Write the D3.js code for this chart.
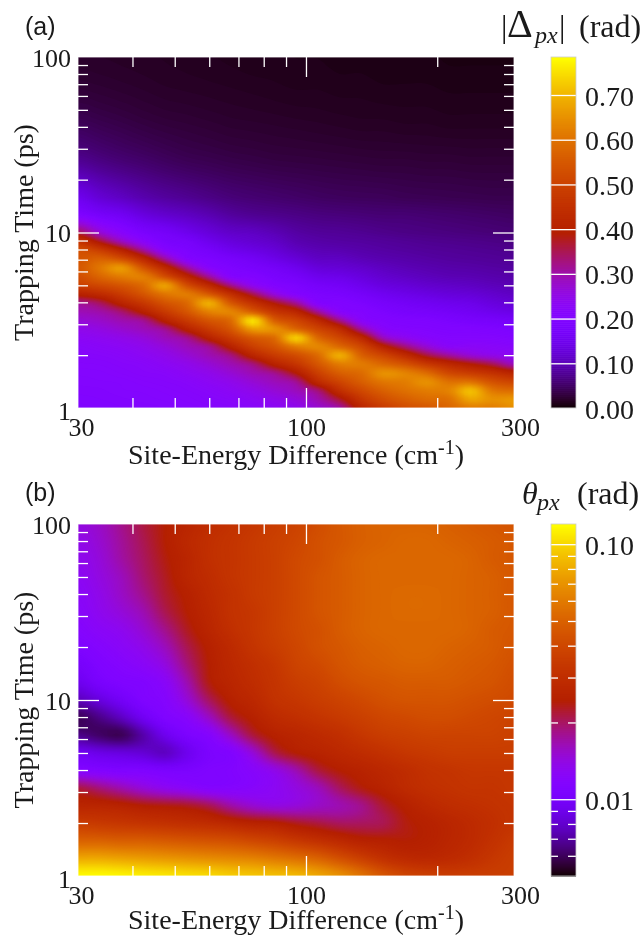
<!DOCTYPE html>
<html>
<head>
<meta charset="utf-8">
<script src="https://cdn.jsdelivr.net/npm/d3@7"></script>
<style>
body { margin: 0; background: #fff; }
svg { filter: blur(0.4px); }
text { font-family: "Liberation Serif", serif; fill: #1a1a1a; }
</style>
</head>
<body>
<script>
// site-energy difference (cm-1), columns of both maps
const energies = [30, 33.7, 37.8, 42.4, 47.5, 53.3, 59.9, 67.2, 75.4, 84.6, 94.9, 106.5, 119.5, 134, 150.4, 168.8, 189.4, 212.5, 238.5, 267.4, 300];

// trapping time (ps), rows of the maps
const timesA = [1, 1.12, 1.26, 1.41, 1.58, 1.78, 2, 2.24, 2.51, 2.82, 3.16, 3.55, 3.98, 4.47, 5.01, 5.62, 6.31, 7.08, 7.94, 8.91, 10, 12.6, 15.8, 25.1, 39.8, 63.1, 100];
const timesB = [1, 1.26, 1.58, 2, 2.51, 3.16, 3.98, 5.01, 6.31, 7.94, 10, 12.6, 15.8, 20, 25.1, 31.6, 39.8, 50.1, 63.1, 79.4, 100];

// |Delta_px| in 0.01 rad, one list per energy, running up through timesA
const deltaPx = [
  [20,20.3,20.5,20.8,21,21.4,21.8,22.1,23.5,24.8,27,29.5,32,41,49.5,53,55,54,53,46,35,20,15,8,4.8,3,2.2],
  [20.2,20.4,20.6,20.9,21.1,21.5,22,22.8,24,25.8,28,30.5,35,44,52,58,61,57,49,37,27,17.5,12.5,7,4.3,2.8,2.1],
  [20.4,20.6,20.9,21,21.5,21.9,22.5,23.5,25,27.5,30,34,42,49,55,62,66,53,41,28.5,22,16,11,6.2,3.9,2.6,2],
  [20.5,20.8,21,21.4,21.9,22.3,23.5,24.6,26.5,29.3,32,41,48,55,59,62,54,43,31,22.5,18.5,13.5,9.5,5.6,3.5,2.4,1.9],
  [20.7,21,21.3,21.7,22.2,23.5,24.8,26.6,29.2,32,41,48.5,54.5,61,67,53,43,31,22,18.5,17,12,8.5,5,3.2,2.2,1.8],
  [21,21.3,21.7,22.2,23.5,24.8,27,29.2,32,41,48.5,55,58.5,61.5,53,42,31,21.5,19,17.5,15,11,7.8,4.5,3,2.1,1.7],
  [21.3,21.8,22.3,23.5,24.8,27,29.6,32,41,48.5,55,63,69,55,43,31,22,19.2,17.3,15,13,9.8,7,4.2,2.8,2,1.6],
  [21.7,22.3,23.5,24.8,27,29.6,33,41,48.5,55,59,63,55,45,32,21.5,19.3,17.7,15.2,13.2,11.5,8.5,6.3,3.9,2.6,1.9,1.5],
  [22.3,23.5,25,27,29.6,33,42,49.5,55.5,67,75,56,46,35,24,20.2,18,16.3,14,12.2,11,7.8,5.9,3.7,2.5,1.8,1.4],
  [23.5,24.8,27,29.2,32,41,48.5,54.5,59,65,56.5,47,38,26,20.5,18.3,16.8,14.5,12.8,11.3,10,7.4,5.6,3.5,2.4,1.7,1.4],
  [24.6,26.5,29.1,31.7,39,47,53,62,73,58,51,42,31,21,19,17,15,12.8,11,9.7,8.8,7,5.3,3.4,2.3,1.6,1.3],
  [27.5,30,33.5,43.5,49.5,55,59,63.5,58.5,51,43,31,21,19,17.3,15,13,11.2,10,9,8.2,6.6,5,3.3,2.2,1.6,1.3],
  [31,37,45,51,56.5,62,69,58.5,51.5,44,32,22,20,18.4,16.5,14.5,12.5,11,9.7,8.7,8,6.4,4.8,3.2,2.1,1.5,1.2],
  [42,47,52,56.5,59,61.5,57,51.5,43,31,22.5,20.5,19,17,15,13.3,11.8,10.2,9.2,8.5,7.7,6.2,4.7,3.1,2,1.5,1.2],
  [48.5,53,57,61,65,58,51,41,29,22.5,20.5,19,17.5,15.5,13.5,12,10.8,9.6,8.8,8.2,7.3,6,4.6,3,2,1.4,1.1],
  [53,56.5,60,62,63,54,44,33,24.5,21,19.8,18,16.5,14.5,12.8,11.2,10.1,9.2,8.5,7.9,7,6,4.4,3,1.9,1.4,1.1],
  [55,59,62,65,59,48,36,27,22,20.5,19.5,17.5,15.7,13.7,11.9,10.5,9.6,8.8,8.2,7.6,6.8,5.8,4.3,2.9,1.9,1.4,1.1],
  [58,60,63,60,52,43,31,23,21,20,18.7,16.8,15,13,11.4,10,9.2,8.5,8,7.4,6.6,5.6,4.2,2.9,1.8,1.3,1],
  [62,68,71,60,49,39,27,23,21,20,18,16,14.5,12.6,11,9.8,9,8.3,7.8,7.2,6.4,5.4,4.1,2.8,1.8,1.3,1],
  [62,65,61,54,46,35,25,22.5,21,19.5,17.5,15,13.3,11.8,10.4,9.4,8.7,8.1,7.6,7,6.2,5.2,4,2.8,1.8,1.3,1],
  [65,66,59,51,42,29,24,22,20.5,19,17,14.2,12.5,11,10,9.1,8.5,7.9,7.4,6.8,6,5,4,2.8,1.8,1.3,1]
];

// theta_px in mrad, one row per entry of timesB
const thetaPx = [
  [120,120,116.7,113,109.6,106.2,102.8,96.5,93.5,90.5,87.7,79.7,70.2,58,46.4,39.6,37.1,36,36,36,36],
  [79.7,79.7,77.2,74.8,72.5,70.2,68,65.9,63.8,59.9,56.2,51.1,43.6,37.1,31.7,28.8,27.9,28.8,30.7,33.7,36],
  [51.1,51.1,49.5,49.5,47.9,46.4,45,43.6,40.9,38.3,34.8,31.7,28.8,26.1,25.3,24.5,25.3,27,28.8,31.7,34.8],
  [36,34.8,33.7,32.7,31.7,30.7,29.7,27.9,26.1,25.3,23,21.6,20.3,20.3,20.9,23.8,25.3,27,28.8,30.7,32.7],
  [27,27,26.1,24.5,23.8,23,20.9,17.3,15.2,14.3,14.7,15.7,16.7,18.4,22.3,25.3,27.9,29.7,30.7,31.7,32.7],
  [21.6,19,16.7,14.7,13.4,12.6,11.8,11.8,12.2,13,14.3,16.2,20.3,23.8,26.1,28.8,30.7,31.7,32.7,32.7,33.7],
  [11.8,11.4,11.1,11.1,10.7,10.7,11.1,11.4,12.2,13.8,16.7,21.6,24.5,26.1,27.9,29.7,31.7,32.7,33.7,33.7,33.7],
  [9.5,8.9,8.6,8.3,7.8,9.2,10.7,11.4,14.7,20.9,24.5,26.1,27.9,29.7,31.7,33.7,34.8,36,36,36,36],
  [6.7,6.2,6,7.3,9.2,10.7,11.8,15.7,21.6,25.3,27,28.8,30.7,33.7,36,37.1,38.3,38.3,38.3,38.3,37.1],
  [6,6.7,7.8,9.5,11.1,12.2,15.7,21.6,25.3,28.8,30.7,32.7,34.8,37.1,39.6,40.9,42.2,42.2,40.9,39.6,38.3],
  [7.6,8.6,9.8,11.1,11.8,14.7,20.3,25.3,27.9,31.7,33.7,36,38.3,40.9,43.6,45,45,45,43.6,42.2,40.9],
  [9.2,10.4,11.1,11.4,12.6,16.7,23.8,27,29.7,32.7,36,38.3,42.2,45,46.4,47.9,47.9,47.9,46.4,45,42.2],
  [10.1,11.1,11.8,12.6,14.3,19,24.5,27.9,30.7,33.7,38.3,40.9,45,47.9,49.5,51.1,51.1,49.5,47.9,46.4,43.6],
  [11.1,11.8,12.6,13.8,16.2,20.9,25.3,28.8,32.7,36,39.6,43.6,46.4,49.5,51.1,52.7,52.7,51.1,49.5,47.9,45],
  [11.8,12.6,13.4,15.2,18.4,23,27,30.7,33.7,37.1,40.9,43.6,47.9,51.1,52.7,52.7,52.7,52.7,51.1,47.9,46.4],
  [12.2,13.4,14.7,16.7,20.9,24.5,27.9,31.7,33.7,37.1,40.9,45,47.9,51.1,52.7,53.5,53.5,52.7,51.1,49.5,46.4],
  [12.6,13.8,15.7,18.4,22.3,25.3,28.8,31.7,34.8,37.1,40.9,45,47.9,51.1,52.7,53.5,53.5,52.7,51.1,49.5,46.4],
  [13,14.3,16.2,19.6,23,27,29.7,32.7,34.8,37.1,40.9,45,47.9,51.1,52.7,52.7,52.7,52.7,51.1,49.5,46.4],
  [13.4,14.7,17.3,20.3,23.8,27,30.7,32.7,34.8,37.1,40.9,43.6,47.9,51.1,52.7,52.7,52.7,52.7,51.1,47.9,46.4],
  [13.8,15.2,17.8,20.9,24.5,27.9,30.7,32.7,34.8,37.1,39.6,43.6,46.4,49.5,51.1,52.7,52.7,51.1,49.5,47.9,46.4],
  [14.3,15.7,18.4,21.6,24.5,27,29.7,31.7,33.7,36,38.3,42.2,46.4,49.5,51.1,51.1,51.1,49.5,47.9,46.4,45]
];

// ticks
const xLabels = [30, 100, 300];
const xMajor = [100];
const xMinor = [40, 50, 60, 70, 80, 90, 200];
const yLabels = [1, 10, 100];
const yMajor = [10];
const yMinor = [2, 3, 4, 5, 6, 7, 8, 9, 20, 30, 40, 50, 60, 70, 80, 90];
const barTicksA = [0, 0.1, 0.2, 0.3, 0.4, 0.5, 0.6, 0.7];
const barTicksB = [0.01, 0.1];
const barMinorB = [0.006, 0.007, 0.008, 0.009, 0.02, 0.03, 0.04, 0.05, 0.06, 0.07, 0.08, 0.09];

// gnuplot default pm3d palette
function pm3d(t) {
  const b = Math.max(0, Math.sin(2 * Math.PI * t));
  return d3.rgb(255 * Math.sqrt(t), 255 * t * t * t, 255 * b).formatHex();
}

// pm3d-interpolate style drawing grid: cubic between the read values, k steps per cell
function spline(a, b, c, d, u) {
  return b + 0.5 * u * (c - a + u * (2 * a - 5 * b + 4 * c - d + u * (3 * (b - c) + d - a)));
}
function refine(grid, k) {
  const ny = grid.length, nx = grid[0].length;
  const at = (r, c) => grid[Math.max(0, Math.min(ny - 1, r))][Math.max(0, Math.min(nx - 1, c))];
  const out = [];
  for (let j = 0; j <= (ny - 1) * k; j++) {
    const r = Math.min(Math.floor(j / k), ny - 2), v = j / k - r;
    for (let i = 0; i <= (nx - 1) * k; i++) {
      const c = Math.min(Math.floor(i / k), nx - 2), u = i / k - c;
      const col = [-1, 0, 1, 2].map(s => spline(at(r + s, c - 1), at(r + s, c), at(r + s, c + 1), at(r + s, c + 2), u));
      out.push(Math.max(0, Math.min(1, spline(col[0], col[1], col[2], col[3], v))));
    }
  }
  return out;
}

const svg = d3.select("body").append("svg").attr("width", 644).attr("height", 936).style("display", "block");

const defs = svg.append("defs");
const levels = d3.range(0, 1, 1 / 300);
const fine = 4;

function styleTicks(g) {
  g.select(".domain").remove();
  g.selectAll("line").attr("stroke", "#fff").attr("stroke-width", 1.3);
}

function addAxis(gen, x, y) {
  return svg.append("g").attr("transform", `translate(${x},${y})`).call(gen).call(styleTicks);
}

function drawPanel(id, top, bottom, times, rows, toColor, titleY) {
  const left = 78, right = 514;
  const xScale = d3.scaleLog().domain([30, 300]).range([left, right]);
  const yScale = d3.scaleLog().domain([1, 100]).range([bottom, top]);

  // grid index -> pixel, d3.contours puts node i at i + 0.5
  const colX = d3.scaleLinear().domain(d3.range(energies.length)).range(energies.map(xScale));
  const rowY = d3.scaleLinear().domain(d3.range(times.length)).range(times.map(yScale));
  const path = d3.geoPath(d3.geoTransform({
    point(c, r) { this.stream.point(colX((c - 0.5) / fine), rowY((r - 0.5) / fine)); }
  }));

  const flat = refine(rows.map(row => row.map(toColor)), fine);
  const nx = (energies.length - 1) * fine + 1, ny = (times.length - 1) * fine + 1;
  const bands = d3.contours().size([nx, ny]).smooth(true).thresholds(levels)(flat);

  defs.append("clipPath").attr("id", "clip" + id).append("rect")
    .attr("x", left).attr("y", top).attr("width", right - left).attr("height", bottom - top);

  svg.append("g").attr("clip-path", `url(#clip${id})`)
    .selectAll("path").data(bands).enter().append("path")
    .attr("d", path).attr("fill", d => pm3d(d.value));

  // white inside ticks on all four sides
  addAxis(d3.axisBottom(xScale).tickValues(xMinor).tickSize(-10).tickFormat(""), 0, bottom);
  addAxis(d3.axisBottom(xScale).tickValues(xMajor).tickSize(-20).tickFormat(""), 0, bottom);
  addAxis(d3.axisTop(xScale).tickValues(xMinor).tickSize(-10).tickFormat(""), 0, top);
  addAxis(d3.axisTop(xScale).tickValues(xMajor).tickSize(-20).tickFormat(""), 0, top);
  addAxis(d3.axisLeft(yScale).tickValues(yMinor).tickSize(-10).tickFormat(""), left, 0);
  addAxis(d3.axisLeft(yScale).tickValues(yMajor).tickSize(-21).tickFormat(""), left, 0);
  addAxis(d3.axisRight(yScale).tickValues(yMinor).tickSize(-10).tickFormat(""), right, 0);
  addAxis(d3.axisRight(yScale).tickValues(yMajor).tickSize(-21).tickFormat(""), right, 0);

  svg.append("rect").attr("x", left).attr("y", top).attr("width", right - left).attr("height", bottom - top)
    .attr("fill", "none").attr("stroke", "#fff").attr("stroke-opacity", 0.8);

  // tick labels
  addAxis(d3.axisBottom(xScale).tickValues(xLabels).tickSize(0).tickPadding(10).tickFormat(d => d), 0, bottom)
    .selectAll("text").attr("font-size", 26).attr("dx", d => d == 30 ? 3 : d == 300 ? 6 : 0);
  addAxis(d3.axisLeft(yScale).tickValues(yLabels).tickSize(0).tickPadding(7).tickFormat(d => d), left, 0)
    .selectAll("text").attr("font-size", 26).attr("dy", d => d == 1 ? 11 : 9);

  svg.selectAll("g text").attr("font-family", "Liberation Serif");

  // axis titles
  const xt = svg.append("text").attr("x", 296).attr("y", titleY).attr("text-anchor", "middle").attr("font-size", 28);
  xt.append("tspan").text("Site-Energy Difference (cm");
  xt.append("tspan").attr("dy", -10).attr("font-size", 20).text("-1");
  xt.append("tspan").attr("dy", 10).text(")");
  svg.append("text").attr("transform", `translate(33,${(top + bottom) / 2}) rotate(-90)`)
    .attr("text-anchor", "middle").attr("font-size", 28).text("Trapping Time (ps)");
}

function drawBar(top, bottom, scale, majors, minors, fmt) {
  const left = 551, right = 576;
  const steps = d3.range(0, 1, 1 / 176);
  const pos = d3.scaleLinear().domain([0, 1]).range([bottom, top]);
  svg.append("g").selectAll("rect").data(steps).enter().append("rect")
    .attr("x", left).attr("width", right - left)
    .attr("y", d => pos(d + 1 / 176)).attr("height", (bottom - top) / 176 + 0.6)
    .attr("fill", d => pm3d(d + 1 / 352));
  const axis = scale.copy().range([bottom, top]);
  addAxis(d3.axisRight(axis).tickValues(majors).tickSize(-(right - left)).tickPadding(9).tickFormat(fmt), right, 0)
    .selectAll("text").attr("font-size", 28).attr("dy", 10).attr("font-family", "Liberation Serif");
  if (minors) {
    addAxis(d3.axisRight(axis).tickValues(minors).tickSize(-8).tickFormat(""), right, 0);
    addAxis(d3.axisLeft(axis).tickValues(minors).tickSize(-7).tickFormat(""), left, 0);
  }
  svg.append("rect").attr("x", left).attr("y", top).attr("width", right - left).attr("height", bottom - top)
    .attr("fill", "none").attr("stroke", "#ccc").attr("stroke-width", 0.8);
}

// panel (a): linear colour, 0 to 0.785 rad
const colorA = d3.scaleLinear().domain([0, 0.785]).range([0, 1]).clamp(true);
drawPanel("A", 57, 408, timesA, d3.transpose(deltaPx), v => colorA(v / 100), 464);
drawBar(57, 408, d3.scaleLinear().domain([0, 0.785]), barTicksA, null, d3.format(".2f"));

// panel (b): log colour, 0.005 to 0.12 rad
const colorB = d3.scaleLog().domain([0.005, 0.12]).range([0, 1]).clamp(true);
drawPanel("B", 524, 876, timesB, thetaPx, v => colorB(v / 1000), 929);
drawBar(524, 876, d3.scaleLog().domain([0.005, 0.12]), barTicksB, barMinorB, d3.format(".2f"));

// panel letters
svg.append("text").attr("x", 25).attr("y", 35).attr("font-size", 25).style("font-family", "Liberation Sans").text("(a)");
svg.append("text").attr("x", 25).attr("y", 501).attr("font-size", 25).style("font-family", "Liberation Sans").text("(b)");

// colour bar titles
const ta = svg.append("text").attr("y", 37).attr("font-size", 32);
ta.append("tspan").attr("x", 501).text("|");
ta.append("tspan").attr("x", 507).attr("font-size", 40).text("Δ");
ta.append("tspan").attr("x", 535).attr("dy", 6).attr("font-size", 24).attr("font-style", "italic").text("px");
ta.append("tspan").attr("x", 559).attr("dy", -6).text("|");
ta.append("tspan").attr("x", 579).text("(rad)");
const tb = svg.append("text").attr("y", 504).attr("font-size", 32);
tb.append("tspan").attr("x", 522).attr("font-style", "italic").text("θ");
tb.append("tspan").attr("x", 537).attr("dy", 6).attr("font-size", 24).attr("font-style", "italic").text("px");
tb.append("tspan").attr("x", 577).attr("dy", -6).text("(rad)");
</script>
</body>
</html>
